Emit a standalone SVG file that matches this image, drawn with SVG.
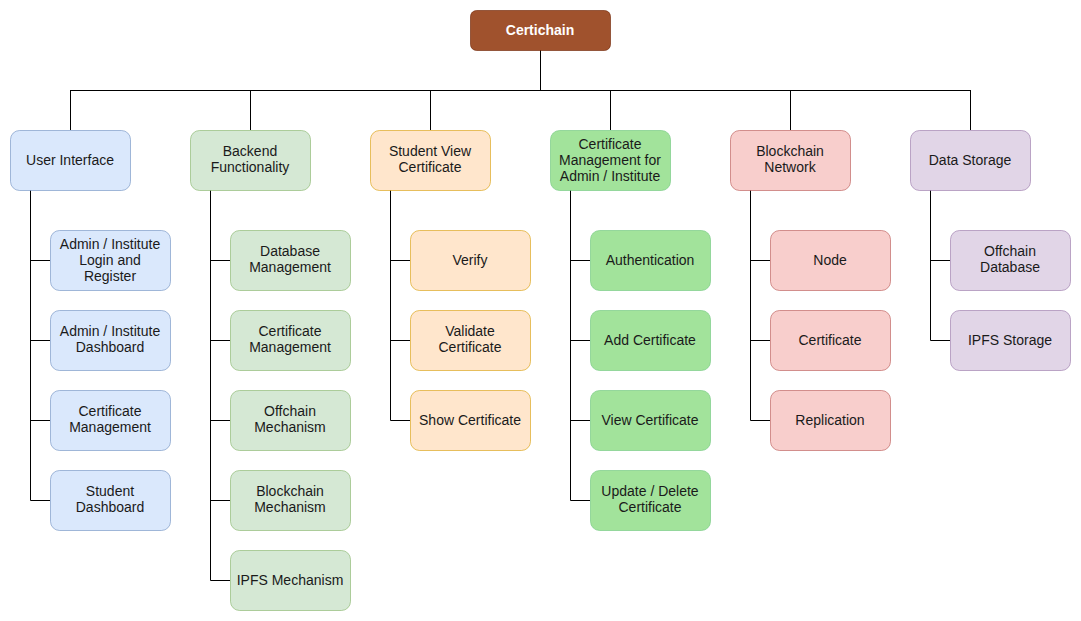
<svg xmlns="http://www.w3.org/2000/svg" width="1081" height="621" viewBox="0 0 1081 621">
<style>
text{font-family:"Liberation Sans",Arial,sans-serif;font-size:14px;fill:#1a1a1a;text-anchor:middle}
.c line,.c polyline{stroke:#000;stroke-width:1;fill:none}
.blue rect{fill:#dae8fc;stroke:#6c8ebf}
.green rect{fill:#d5e8d4;stroke:#82b366}
.orange rect{fill:#ffe6cc;stroke:#d79b00}
.lime rect{fill:#a2e39b;stroke:#6dc77b}
.red rect{fill:#f8cecc;stroke:#b85450}
.purple rect{fill:#e1d5e7;stroke:#9673a6}
rect{stroke-opacity:0.6}
</style>
<rect width="1081" height="621" fill="#fff"/>
<g class="c" id="connectors">
<line x1="540.5" y1="50" x2="540.5" y2="90.5"/>
<line x1="70" y1="90.5" x2="971" y2="90.5"/>
<line x1="70.5" y1="90.5" x2="70.5" y2="130"/>
<line x1="250.5" y1="90.5" x2="250.5" y2="130"/>
<line x1="430.5" y1="90.5" x2="430.5" y2="130"/>
<line x1="610.5" y1="90.5" x2="610.5" y2="130"/>
<line x1="790.5" y1="90.5" x2="790.5" y2="130"/>
<line x1="970.5" y1="90.5" x2="970.5" y2="130"/>
<polyline points="30.5,190 30.5,260.5 50,260.5"/>
<polyline points="30.5,260 30.5,340.5 50,340.5"/>
<polyline points="30.5,340 30.5,420.5 50,420.5"/>
<polyline points="30.5,420 30.5,500.5 50,500.5"/>
<polyline points="210.5,190 210.5,260.5 230,260.5"/>
<polyline points="210.5,260 210.5,340.5 230,340.5"/>
<polyline points="210.5,340 210.5,420.5 230,420.5"/>
<polyline points="210.5,420 210.5,500.5 230,500.5"/>
<polyline points="210.5,500 210.5,580.5 230,580.5"/>
<polyline points="390.5,190 390.5,260.5 410,260.5"/>
<polyline points="390.5,260 390.5,340.5 410,340.5"/>
<polyline points="390.5,340 390.5,420.5 410,420.5"/>
<polyline points="570.5,190 570.5,260.5 590,260.5"/>
<polyline points="570.5,260 570.5,340.5 590,340.5"/>
<polyline points="570.5,340 570.5,420.5 590,420.5"/>
<polyline points="570.5,420 570.5,500.5 590,500.5"/>
<polyline points="750.5,190 750.5,260.5 770,260.5"/>
<polyline points="750.5,260 750.5,340.5 770,340.5"/>
<polyline points="750.5,340 750.5,420.5 770,420.5"/>
<polyline points="930.5,190 930.5,260.5 950,260.5"/>
<polyline points="930.5,260 930.5,340.5 950,340.5"/>
</g>
<g id="certichain">
<rect x="470.5" y="10.5" width="140" height="40" rx="6" fill="#a0522d" stroke="#6d1f00" stroke-opacity="0.6"/>
<text x="540" y="35" style="fill:#fff;font-weight:bold">Certichain</text>
</g>
<!-- User Interface -->
<g id="user-interface" class="blue"><rect x="10.5" y="130.5" width="120" height="60" rx="9"/><text x="70" y="165">User Interface</text></g>
<g id="ui-login" class="blue"><rect x="50.5" y="230.5" width="120" height="60" rx="9"/><text x="110" y="249">Admin / Institute</text><text x="110" y="265">Login and</text><text x="110" y="281">Register</text></g>
<g id="ui-dashboard" class="blue"><rect x="50.5" y="310.5" width="120" height="60" rx="9"/><text x="110" y="335.5">Admin / Institute</text><text x="110" y="352">Dashboard</text></g>
<g id="ui-certmgmt" class="blue"><rect x="50.5" y="390.5" width="120" height="60" rx="9"/><text x="110" y="415.5">Certificate</text><text x="110" y="432">Management</text></g>
<g id="ui-student" class="blue"><rect x="50.5" y="470.5" width="120" height="60" rx="9"/><text x="110" y="495.5">Student</text><text x="110" y="512">Dashboard</text></g>
<!-- Backend -->
<g id="backend" class="green"><rect x="190.5" y="130.5" width="120" height="60" rx="9"/><text x="250" y="155.5">Backend</text><text x="250" y="172">Functionality</text></g>
<g id="be-db" class="green"><rect x="230.5" y="230.5" width="120" height="60" rx="9"/><text x="290" y="255.5">Database</text><text x="290" y="272">Management</text></g>
<g id="be-cert" class="green"><rect x="230.5" y="310.5" width="120" height="60" rx="9"/><text x="290" y="335.5">Certificate</text><text x="290" y="352">Management</text></g>
<g id="be-offchain" class="green"><rect x="230.5" y="390.5" width="120" height="60" rx="9"/><text x="290" y="415.5">Offchain</text><text x="290" y="432">Mechanism</text></g>
<g id="be-blockchain" class="green"><rect x="230.5" y="470.5" width="120" height="60" rx="9"/><text x="290" y="495.5">Blockchain</text><text x="290" y="512">Mechanism</text></g>
<g id="be-ipfs" class="green"><rect x="230.5" y="550.5" width="120" height="60" rx="9"/><text x="290" y="585">IPFS Mechanism</text></g>
<!-- Student View -->
<g id="student-view" class="orange"><rect x="370.5" y="130.5" width="120" height="60" rx="9"/><text x="430" y="155.5">Student View</text><text x="430" y="172">Certificate</text></g>
<g id="sv-verify" class="orange"><rect x="410.5" y="230.5" width="120" height="60" rx="9"/><text x="470" y="265">Verify</text></g>
<g id="sv-validate" class="orange"><rect x="410.5" y="310.5" width="120" height="60" rx="9"/><text x="470" y="335.5">Validate</text><text x="470" y="352">Certificate</text></g>
<g id="sv-show" class="orange"><rect x="410.5" y="390.5" width="120" height="60" rx="9"/><text x="470" y="425">Show Certificate</text></g>
<!-- Cert Mgmt -->
<g id="cert-mgmt" class="lime"><rect x="550.5" y="130.5" width="120" height="60" rx="9"/><text x="610" y="149">Certificate</text><text x="610" y="165">Management for</text><text x="610" y="181">Admin / Institute</text></g>
<g id="cm-auth" class="lime"><rect x="590.5" y="230.5" width="120" height="60" rx="9"/><text x="650" y="265">Authentication</text></g>
<g id="cm-add" class="lime"><rect x="590.5" y="310.5" width="120" height="60" rx="9"/><text x="650" y="345">Add Certificate</text></g>
<g id="cm-view" class="lime"><rect x="590.5" y="390.5" width="120" height="60" rx="9"/><text x="650" y="425">View Certificate</text></g>
<g id="cm-update" class="lime"><rect x="590.5" y="470.5" width="120" height="60" rx="9"/><text x="650" y="495.5">Update / Delete</text><text x="650" y="512">Certificate</text></g>
<!-- Blockchain -->
<g id="blockchain" class="red"><rect x="730.5" y="130.5" width="120" height="60" rx="9"/><text x="790" y="155.5">Blockchain</text><text x="790" y="172">Network</text></g>
<g id="bc-node" class="red"><rect x="770.5" y="230.5" width="120" height="60" rx="9"/><text x="830" y="265">Node</text></g>
<g id="bc-cert" class="red"><rect x="770.5" y="310.5" width="120" height="60" rx="9"/><text x="830" y="345">Certificate</text></g>
<g id="bc-repl" class="red"><rect x="770.5" y="390.5" width="120" height="60" rx="9"/><text x="830" y="425">Replication</text></g>
<!-- Data Storage -->
<g id="data-storage" class="purple"><rect x="910.5" y="130.5" width="120" height="60" rx="9"/><text x="970" y="165">Data Storage</text></g>
<g id="ds-offchain" class="purple"><rect x="950.5" y="230.5" width="120" height="60" rx="9"/><text x="1010" y="255.5">Offchain</text><text x="1010" y="272">Database</text></g>
<g id="ds-ipfs" class="purple"><rect x="950.5" y="310.5" width="120" height="60" rx="9"/><text x="1010" y="345">IPFS Storage</text></g>
</svg>
